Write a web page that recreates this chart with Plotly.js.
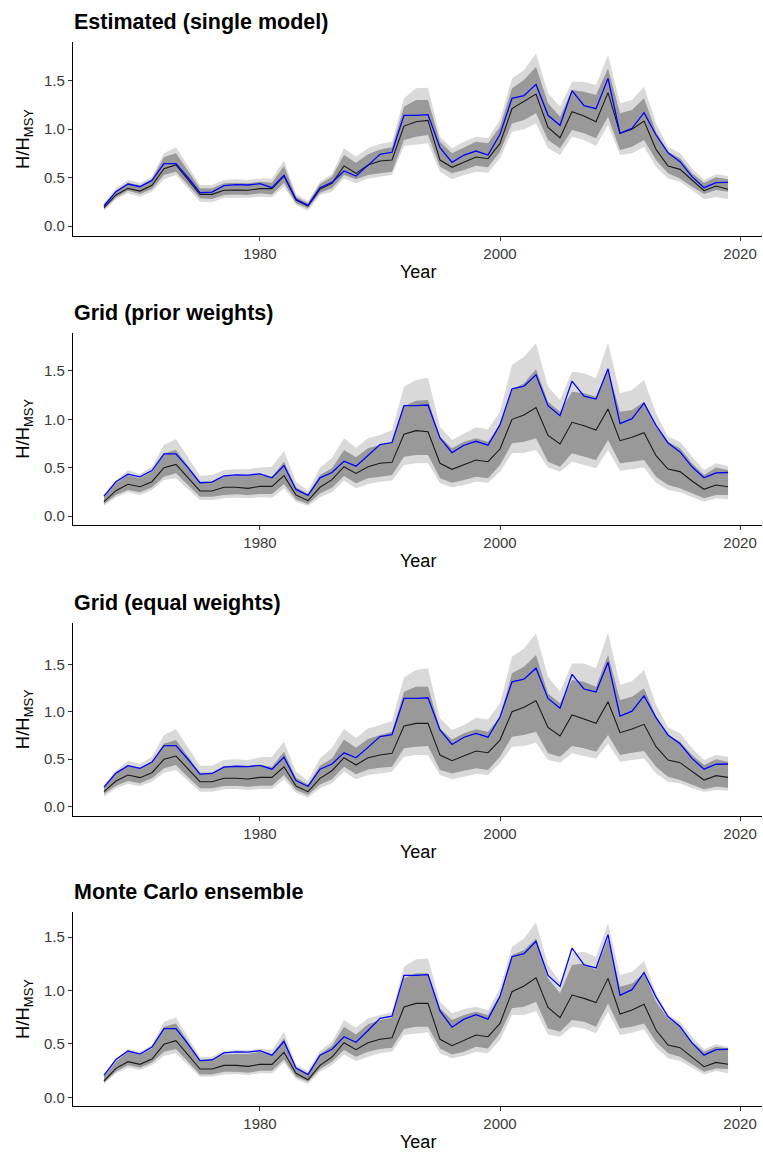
<!DOCTYPE html>
<html>
<head>
<meta charset="utf-8">
<script src="https://cdn.plot.ly/plotly-3.0.1.min.js"></script>
<style>html,body{margin:0;padding:0;background:#fff;}#chart{width:763px;height:1154px;}</style>
</head>
<body>
<div id="chart"></div>
<script>
// ---------- data ----------
var years = [1967,1968,1969,1970,1971,1972,1973,1974,1975,1976,1977,1978,1979,1980,1981,1982,1983,1984,1985,1986,1987,1988,1989,1990,1991,1992,1993,1994,1995,1996,1997,1998,1999,2000,2001,2002,2003,2004,2005,2006,2007,2008,2009,2010,2011,2012,2013,2014,2015,2016,2017,2018,2019];

var panelTitles = ["Estimated (single model)", "Grid (prior weights)", "Grid (equal weights)", "Monte Carlo ensemble"];
var xTicks = [1980, 2000, 2020];
var yTicks = [0, 0.5, 1.0, 1.5];

// single-model estimate (blue line, same in every panel)
var estimate = [0.206,0.354,0.433,0.405,0.47,0.643,0.643,0.50,0.344,0.35,0.416,0.426,0.423,0.436,0.395,0.522,0.275,0.213,0.395,0.45,0.567,0.515,0.625,0.739,0.76,1.141,1.141,1.148,0.808,0.656,0.732,0.773,0.732,0.945,1.316,1.344,1.46,1.141,1.038,1.395,1.24,1.21,1.522,0.955,1.007,1.168,0.938,0.756,0.663,0.509,0.395,0.447,0.45];

// Panel 1: Estimated (single model)
var med1  = [0.19,0.32,0.388,0.36,0.42,0.59,0.63,0.48,0.326,0.326,0.368,0.371,0.368,0.385,0.385,0.515,0.268,0.206,0.38,0.44,0.62,0.543,0.63,0.67,0.68,1.03,1.075,1.089,0.68,0.605,0.656,0.711,0.694,0.852,1.21,1.282,1.36,1.017,0.91,1.179,1.134,1.076,1.375,0.955,0.997,1.082,0.79,0.619,0.584,0.474,0.364,0.412,0.378];
var hi95_1 = [0.24,0.388,0.474,0.447,0.509,0.749,0.811,0.62,0.423,0.423,0.474,0.481,0.474,0.491,0.491,0.674,0.33,0.258,0.457,0.536,0.801,0.715,0.801,0.845,0.869,1.316,1.419,1.426,0.921,0.801,0.869,0.921,0.904,1.093,1.522,1.608,1.78,1.368,1.23,1.488,1.488,1.454,1.763,1.265,1.299,1.436,1.058,0.818,0.749,0.594,0.474,0.533,0.515];
var hi50_1 = [0.223,0.364,0.447,0.419,0.481,0.708,0.749,0.57,0.388,0.388,0.44,0.447,0.44,0.457,0.447,0.619,0.302,0.234,0.433,0.509,0.732,0.653,0.739,0.79,0.811,1.23,1.299,1.299,0.869,0.749,0.811,0.869,0.852,1.024,1.419,1.505,1.643,1.265,1.127,1.402,1.385,1.351,1.625,1.162,1.196,1.316,0.973,0.766,0.698,0.543,0.447,0.502,0.481];
var lo50_1 = [0.172,0.295,0.364,0.33,0.381,0.526,0.56,0.42,0.285,0.278,0.32,0.326,0.32,0.337,0.326,0.447,0.234,0.182,0.344,0.388,0.526,0.481,0.526,0.543,0.56,0.887,0.921,0.938,0.612,0.543,0.577,0.622,0.605,0.766,1.058,1.093,1.162,0.887,0.801,0.99,0.955,0.904,1.127,0.784,0.818,0.887,0.68,0.543,0.491,0.405,0.33,0.371,0.354];
var lo95_1 = [0.155,0.275,0.337,0.302,0.354,0.481,0.526,0.39,0.251,0.244,0.292,0.292,0.292,0.302,0.296,0.405,0.216,0.158,0.32,0.354,0.491,0.44,0.491,0.509,0.526,0.825,0.842,0.852,0.56,0.481,0.526,0.56,0.55,0.698,0.973,0.997,1.058,0.801,0.732,0.921,0.887,0.825,1.041,0.732,0.749,0.818,0.612,0.491,0.457,0.371,0.275,0.30,0.275];

// Panel 2: Grid (prior weights)
var med2  = [0.148,0.262,0.328,0.303,0.355,0.5,0.534,0.40,0.259,0.259,0.297,0.297,0.286,0.307,0.307,0.417,0.217,0.159,0.297,0.376,0.51,0.441,0.51,0.545,0.555,0.845,0.883,0.872,0.545,0.483,0.531,0.579,0.562,0.693,1.0,1.045,1.121,0.834,0.745,0.969,0.934,0.89,1.107,0.779,0.814,0.862,0.624,0.486,0.459,0.362,0.276,0.321,0.303];
var hi95_2 = [0.217,0.366,0.476,0.434,0.51,0.734,0.797,0.60,0.417,0.424,0.476,0.483,0.483,0.503,0.51,0.672,0.355,0.262,0.5,0.603,0.803,0.707,0.803,0.838,0.89,1.338,1.407,1.43,0.924,0.786,0.855,0.917,0.897,1.079,1.562,1.648,1.786,1.338,1.2,1.493,1.476,1.424,1.793,1.269,1.303,1.407,1.062,0.821,0.769,0.614,0.476,0.545,0.517];
var hi50_2 = [0.2,0.338,0.424,0.39,0.459,0.648,0.683,0.52,0.355,0.355,0.417,0.417,0.417,0.424,0.407,0.562,0.297,0.228,0.424,0.493,0.683,0.607,0.7,0.734,0.769,1.138,1.193,1.2,0.821,0.7,0.769,0.803,0.769,0.941,1.303,1.372,1.517,1.183,1.079,1.286,1.269,1.234,1.517,1.079,1.097,1.183,0.924,0.769,0.7,0.545,0.424,0.503,0.476];
var lo50_2 = [0.124,0.217,0.269,0.245,0.297,0.407,0.441,0.32,0.2,0.2,0.217,0.224,0.217,0.228,0.228,0.331,0.172,0.124,0.234,0.293,0.414,0.338,0.39,0.407,0.424,0.614,0.631,0.631,0.39,0.345,0.372,0.407,0.39,0.528,0.752,0.769,0.803,0.562,0.51,0.648,0.614,0.579,0.786,0.545,0.562,0.579,0.407,0.321,0.286,0.234,0.183,0.217,0.217];
var lo95_2 = [0.103,0.193,0.245,0.217,0.269,0.372,0.39,0.28,0.166,0.166,0.183,0.19,0.183,0.193,0.19,0.286,0.148,0.103,0.193,0.245,0.366,0.286,0.331,0.355,0.366,0.528,0.545,0.545,0.338,0.297,0.321,0.355,0.345,0.459,0.648,0.655,0.683,0.503,0.459,0.562,0.528,0.493,0.683,0.469,0.483,0.503,0.345,0.269,0.245,0.2,0.148,0.183,0.172];

// Panel 3: Grid (equal weights)
var med3  = [0.158,0.27,0.334,0.306,0.358,0.499,0.534,0.40,0.263,0.263,0.299,0.299,0.292,0.309,0.309,0.421,0.218,0.158,0.299,0.379,0.516,0.439,0.516,0.544,0.562,0.85,0.878,0.878,0.544,0.485,0.534,0.587,0.569,0.702,1.001,1.047,1.117,0.836,0.745,0.966,0.924,0.878,1.106,0.78,0.818,0.868,0.632,0.492,0.464,0.369,0.281,0.327,0.309];
var hi95_3 = [0.228,0.379,0.485,0.45,0.527,0.755,0.815,0.62,0.432,0.432,0.492,0.499,0.492,0.52,0.527,0.685,0.369,0.274,0.509,0.622,0.818,0.727,0.825,0.861,0.903,1.363,1.44,1.458,0.931,0.808,0.861,0.938,0.92,1.089,1.581,1.668,1.826,1.37,1.212,1.51,1.51,1.458,1.833,1.282,1.324,1.44,1.071,0.836,0.773,0.615,0.492,0.544,0.527];
var hi50_3 = [0.211,0.344,0.439,0.404,0.474,0.667,0.702,0.53,0.358,0.358,0.429,0.432,0.429,0.439,0.421,0.58,0.306,0.235,0.432,0.509,0.709,0.622,0.713,0.755,0.79,1.212,1.264,1.264,0.825,0.709,0.773,0.815,0.79,0.948,1.405,1.475,1.598,1.194,1.089,1.335,1.317,1.264,1.598,1.124,1.159,1.247,0.948,0.755,0.685,0.544,0.439,0.499,0.474];
var lo50_3 = [0.133,0.221,0.27,0.246,0.299,0.404,0.439,0.31,0.193,0.193,0.218,0.221,0.211,0.221,0.221,0.334,0.176,0.123,0.235,0.288,0.421,0.341,0.393,0.411,0.421,0.615,0.632,0.639,0.386,0.351,0.379,0.404,0.386,0.527,0.738,0.755,0.79,0.562,0.527,0.639,0.615,0.58,0.755,0.544,0.569,0.587,0.421,0.316,0.281,0.228,0.183,0.211,0.2];
var lo95_3 = [0.105,0.193,0.239,0.218,0.263,0.358,0.386,0.27,0.158,0.158,0.183,0.186,0.176,0.186,0.186,0.288,0.148,0.098,0.193,0.246,0.369,0.288,0.334,0.351,0.369,0.527,0.544,0.544,0.334,0.288,0.316,0.344,0.334,0.457,0.632,0.639,0.674,0.492,0.464,0.562,0.534,0.509,0.667,0.474,0.492,0.509,0.351,0.263,0.246,0.193,0.158,0.176,0.169];

// Panel 4: Monte Carlo ensemble
var med4  = [0.153,0.271,0.334,0.309,0.359,0.496,0.53,0.40,0.265,0.265,0.299,0.299,0.29,0.309,0.309,0.421,0.225,0.165,0.299,0.377,0.511,0.446,0.511,0.543,0.558,0.845,0.879,0.879,0.543,0.483,0.533,0.583,0.567,0.692,0.988,1.041,1.119,0.842,0.745,0.957,0.926,0.886,1.113,0.78,0.817,0.87,0.63,0.49,0.465,0.374,0.287,0.327,0.309];
var hi95_4 = [0.215,0.359,0.452,0.427,0.49,0.708,0.748,0.57,0.38,0.38,0.433,0.443,0.44,0.458,0.443,0.614,0.302,0.249,0.437,0.521,0.723,0.652,0.739,0.77,0.795,1.222,1.291,1.3,0.895,0.786,0.826,0.848,0.817,1.02,1.409,1.487,1.637,1.238,1.082,1.347,1.363,1.316,1.628,1.144,1.176,1.275,0.973,0.77,0.708,0.567,0.449,0.496,0.474];
var hi50_4 = [0.193,0.334,0.427,0.396,0.458,0.661,0.692,0.52,0.349,0.359,0.402,0.405,0.405,0.427,0.402,0.552,0.281,0.225,0.405,0.483,0.661,0.589,0.683,0.723,0.745,1.113,1.16,1.16,0.833,0.723,0.77,0.801,0.77,0.957,1.331,1.378,1.487,1.113,0.973,1.238,1.253,1.191,1.487,1.035,1.066,1.16,0.895,0.739,0.661,0.521,0.427,0.474,0.458];
var lo50_4 = [0.14,0.24,0.302,0.278,0.327,0.427,0.452,0.33,0.215,0.215,0.24,0.24,0.231,0.249,0.249,0.355,0.193,0.147,0.265,0.334,0.443,0.38,0.427,0.452,0.465,0.639,0.661,0.661,0.458,0.402,0.427,0.474,0.458,0.599,0.833,0.848,0.895,0.645,0.614,0.723,0.708,0.661,0.879,0.645,0.661,0.692,0.521,0.412,0.38,0.309,0.24,0.271,0.265];
var lo95_4 = [0.125,0.225,0.278,0.256,0.302,0.39,0.412,0.30,0.193,0.193,0.215,0.218,0.209,0.225,0.225,0.327,0.171,0.125,0.24,0.302,0.402,0.34,0.38,0.412,0.427,0.583,0.599,0.608,0.412,0.365,0.39,0.427,0.412,0.536,0.77,0.77,0.808,0.589,0.567,0.661,0.645,0.599,0.801,0.583,0.605,0.636,0.465,0.365,0.34,0.278,0.215,0.246,0.225];

// ---------- figure ----------
var W = 763, H = 1154;
var panels = [
  {med: med1, lo95: lo95_1, hi95: hi95_1, lo50: lo50_1, hi50: hi50_1, top: 42,    bot: 236,   yr: [-0.103, 1.897]},
  {med: med2, lo95: lo95_2, hi95: hi95_2, lo50: lo50_2, hi50: hi50_2, top: 332.7, bot: 525,   yr: [-0.093, 1.896]},
  {med: med3, lo95: lo95_3, hi95: hi95_3, lo50: lo50_3, hi50: hi50_3, top: 622.7, bot: 815.7, yr: [-0.095, 1.939]},
  {med: med4, lo95: lo95_4, hi95: hi95_4, lo50: lo50_4, hi50: hi50_4, top: 912.3, bot: 1105.7, yr: [-0.078, 1.731]}
];
var FONT = "Liberation Sans, Arial, Helvetica, sans-serif";
var LIGHT = "#d9d9d9", DARK = "#999999";
var xLeft = 73, xRight = 762;
function px(x){ return x / W; }
function py(y){ return 1 - y / H; }

var traces = [];
var layout = {
  width: W, height: H,
  margin: {l: 0, r: 0, t: 0, b: 0},
  paper_bgcolor: "#ffffff", plot_bgcolor: "#ffffff",
  showlegend: false,
  font: {family: FONT, color: "#000"},
  annotations: []
};

panels.forEach(function(p, i){
  var n = i + 1;
  var xa = "x" + (n === 1 ? "" : n), ya = "y" + (n === 1 ? "" : n);
  var common = {x: years, xaxis: xa, yaxis: ya, mode: "lines", hoverinfo: "skip", type: "scatter"};
  traces.push(Object.assign({}, common, {y: p.lo95, line: {width: 0, color: LIGHT}}));
  traces.push(Object.assign({}, common, {y: p.hi95, line: {width: 0, color: LIGHT}, fill: "tonexty", fillcolor: LIGHT}));
  traces.push(Object.assign({}, common, {y: p.lo50, line: {width: 0, color: DARK}}));
  traces.push(Object.assign({}, common, {y: p.hi50, line: {width: 0, color: DARK}, fill: "tonexty", fillcolor: DARK}));
  traces.push(Object.assign({}, common, {y: p.med, line: {width: 1.1, color: "#1a1a1a"}}));
  traces.push(Object.assign({}, common, {y: estimate, line: {width: 1.3, color: "#0000ff"}}));

  layout["xaxis" + (n === 1 ? "" : n)] = {
    domain: [px(xLeft), px(xRight)], anchor: ya,
    range: [1964.42, 2021.83],
    tickvals: xTicks, ticktext: xTicks.map(String),
    ticks: "outside", ticklen: 4, tickwidth: 1, tickcolor: "#333333",
    showline: true, linecolor: "#000000", linewidth: 1.1,
    showgrid: false, zeroline: false,
    tickfont: {family: FONT, size: 15, color: "#3a3a3a"}
  };
  layout["yaxis" + (n === 1 ? "" : n)] = {
    domain: [py(p.bot), py(p.top)], anchor: xa,
    range: p.yr,
    tickvals: yTicks, ticktext: yTicks.map(function(v){ return v.toFixed(1); }),
    ticks: "outside", ticklen: 4, tickwidth: 1, tickcolor: "#333333",
    showline: true, linecolor: "#000000", linewidth: 1.1,
    showgrid: false, zeroline: false,
    tickfont: {family: FONT, size: 15, color: "#3a3a3a"}
  };

  layout.annotations.push({
    text: "<b>" + panelTitles[i] + "</b>", xref: "paper", yref: "paper",
    x: px(xLeft - 1), y: py(p.top - 20), xanchor: "left", yanchor: "middle",
    showarrow: false, font: {family: FONT, size: 21.5, color: "#000"}
  });
  layout.annotations.push({
    text: "Year", xref: "paper", yref: "paper",
    x: px((xLeft + xRight) / 2), y: py(p.bot + 36), xanchor: "center", yanchor: "middle",
    showarrow: false, font: {family: FONT, size: 18, color: "#000"}
  });
  layout.annotations.push({
    text: "H/H<sub>MSY</sub>", xref: "paper", yref: "paper",
    x: px(24), y: py((p.top + p.bot) / 2), xanchor: "center", yanchor: "middle",
    textangle: -90,
    showarrow: false, font: {family: FONT, size: 18.5, color: "#000"}
  });
});

Plotly.newPlot("chart", traces, layout, {staticPlot: true, displayModeBar: false});
</script>
</body>
</html>
